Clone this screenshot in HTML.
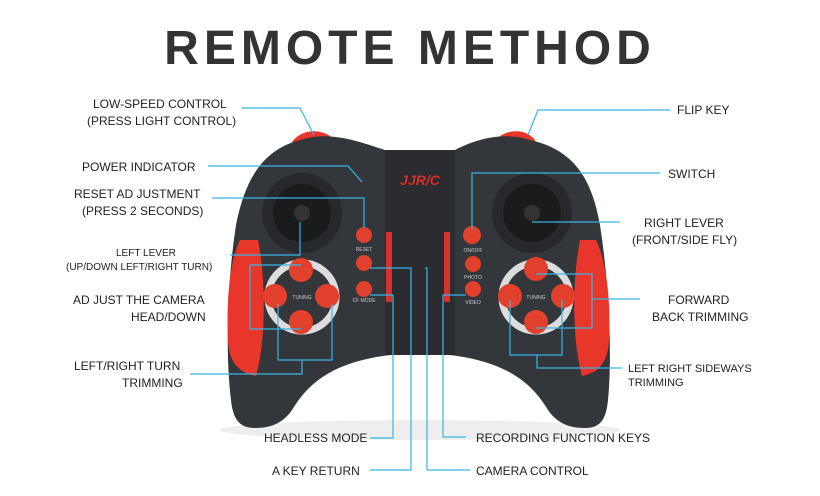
<!DOCTYPE html>
<html><head><style>
body{margin:0;background:#fff;}
svg text{font-family:"Liberation Sans",sans-serif;}
</style></head><body>
<svg width="820" height="491" viewBox="0 0 820 491" xmlns="http://www.w3.org/2000/svg">
<rect width="820" height="491" fill="#fff"/>
<text x="410" y="64" text-anchor="middle" font-size="48" font-weight="bold" fill="#333" letter-spacing="5">REMOTE METHOD</text>
<ellipse cx="420" cy="430" rx="200" ry="10" fill="#eee"/>
<path d="M292,142 C300,130 318,128 330,136 L328,150 L292,150Z" fill="#e8372a"/>
<path d="M500,136 C512,128 530,130 536,142 L536,150 L500,150Z" fill="#e8372a"/>
<path d="M300,140 C330,130 360,142 385,150 L455,150 C470,142 500,130 530,140 C575,150 592,180 600,225 C610,290 612,360 608,400 C606,420 600,428 585,428 C565,428 555,420 548,410 C530,380 500,355 420,353 C340,355 310,380 292,410 C285,420 275,428 255,428 C240,428 233,420 231,400 C226,360 226,290 236,225 C245,180 262,150 300,140Z" fill="#33363b"/>
<rect x="385" y="150" width="70" height="205" fill="#2a2c30"/>
<path d="M240,240 C230,260 226,300 228,340 C229,360 236,372 256,376 C266,340 266,280 258,240Z" fill="#e8372a"/>
<path d="M596,240 C606,260 611,300 609,340 C608,360 601,372 582,376 C572,340 572,280 580,240Z" fill="#e8372a"/>
<circle cx="302" cy="213" r="40" fill="#26282b"/><circle cx="302" cy="213" r="29" fill="#1a1b1d"/><circle cx="302" cy="213" r="8" fill="#333"/>
<circle cx="532" cy="213" r="40" fill="#26282b"/><circle cx="532" cy="213" r="29" fill="#1a1b1d"/><circle cx="532" cy="213" r="8" fill="#333"/>
<circle cx="302" cy="297" r="34" fill="none" stroke="#ddd" stroke-width="7"/>
<circle cx="536" cy="297" r="34" fill="none" stroke="#ddd" stroke-width="7"/>
<g fill="#e0402c">
<circle cx="301" cy="270" r="12"/><circle cx="301" cy="322" r="12"/><circle cx="275" cy="296" r="12"/><circle cx="327" cy="296" r="12"/>
<circle cx="536" cy="269" r="12"/><circle cx="536" cy="322" r="12"/><circle cx="510" cy="296" r="12"/><circle cx="563" cy="296" r="12"/>
<circle cx="364" cy="235" r="8"/><circle cx="364" cy="263" r="8"/><circle cx="364" cy="289" r="8"/>
<circle cx="472" cy="235" r="9"/><circle cx="473" cy="264" r="8"/><circle cx="473" cy="289" r="8"/>
</g>
<g font-size="5" fill="#ccc" text-anchor="middle">
<text x="302" y="299">TUNING</text><text x="536" y="299">TUNING</text>
<text x="364" y="251">RESET</text><text x="364" y="302">CF MODE</text>
<text x="473" y="252">ON/OFF</text><text x="473" y="279">PHOTO</text><text x="473" y="304">VIDEO</text>
</g>
<text x="420" y="185" text-anchor="middle" font-size="14" font-style="italic" font-weight="bold" fill="#d8302a">JJR/C</text>
<g fill="#d8302a"><rect x="386" y="232" width="6" height="70"/><rect x="444" y="232" width="6" height="70"/></g>
<g fill="none" stroke="#39b4e6" stroke-width="1.2">
<path d="M242,108 L300,108 L314,135"/>
<path d="M208,166 L348,166 L362,182"/>
<path d="M212,198 L364,198 L364,228"/>
<path d="M230,255 L300,255 L300,222"/>
<path d="M250,298 L250,329 L301,329 M250,265 L301,265 M250,265 L250,298"/>
<path d="M278,304 L278,360 L332,360 L332,304 M302,360 L302,374 L190,374"/>
<path d="M370,438 L393,438 L393,295 L370,295"/>
<path d="M370,268 L411,268 L411,470 L370,470"/>
<path d="M425,268 L427,268 L427,470 L470,470"/>
<path d="M466,437 L443,437 L443,295 L466,295"/>
<path d="M670,110 L538,110 L528,135"/>
<path d="M660,173 L472,173 L472,230"/>
<path d="M620,222 L532,222"/>
<path d="M536,274 L592,274 L592,328 L536,328 M592,299 L640,299"/>
<path d="M510,300 L510,355 L562,355 L562,300 M537,355 L537,368 L622,368"/>
</g>
<g font-size="12" fill="#222">
<text x="93" y="108">LOW-SPEED CONTROL</text>
<text x="87" y="125">(PRESS LIGHT CONTROL)</text>
<text x="82" y="171">POWER INDICATOR</text>
<text x="74" y="198">RESET AD JUSTMENT</text>
<text x="82" y="215">(PRESS 2 SECONDS)</text>
<text x="116" y="256" font-size="10">LEFT LEVER</text>
<text x="66" y="270" font-size="10">(UP/DOWN LEFT/RIGHT TURN)</text>
<text x="73" y="304">AD JUST THE CAMERA</text>
<text x="131" y="321">HEAD/DOWN</text>
<text x="74" y="370">LEFT/RIGHT TURN</text>
<text x="122" y="387">TRIMMING</text>
<text x="264" y="442">HEADLESS MODE</text>
<text x="272" y="475">A KEY RETURN</text>
<text x="476" y="442">RECORDING FUNCTION KEYS</text>
<text x="476" y="475">CAMERA CONTROL</text>
<text x="677" y="114">FLIP KEY</text>
<text x="668" y="178">SWITCH</text>
<text x="644" y="227">RIGHT LEVER</text>
<text x="632" y="244">(FRONT/SIDE FLY)</text>
<text x="668" y="304">FORWARD</text>
<text x="652" y="321">BACK TRIMMING</text>
<text x="628" y="372" font-size="11">LEFT RIGHT SIDEWAYS</text>
<text x="628" y="386" font-size="11">TRIMMING</text>
</g>
</svg>
</body></html>
